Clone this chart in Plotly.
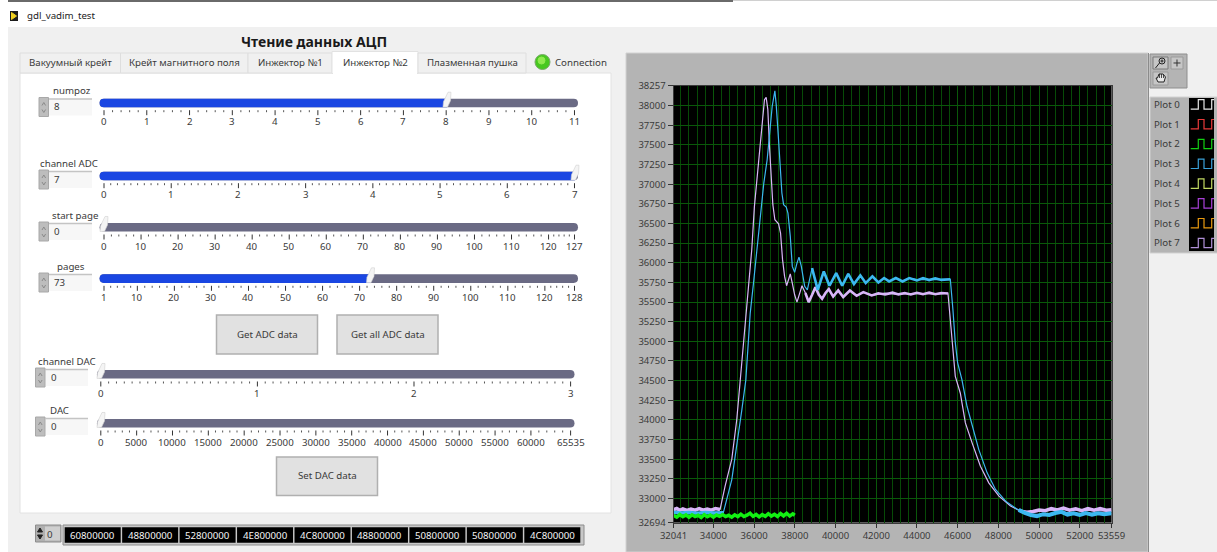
import plotly.graph_objects as go

W, H = 1217, 552
FONT = "Noto Sans"

# ---------- chart data ----------
x_ticks = [32041, 34000, 36000, 38000, 40000, 42000, 44000, 46000, 48000, 50000, 52000, 53559]
y_ticks = [38257, 38000, 37750, 37500, 37250, 37000, 36750, 36500, 36250, 36000, 35750, 35500,
           35250, 35000, 34750, 34500, 34250, 34000, 33750, 33500, 33250, 33000, 32694]
x_minor = [32400, 32800, 33200, 33600, 34400, 34800, 35200, 35600, 36400, 36800, 37200, 37600,
           38400, 38800, 39200, 39600, 40400, 40800, 41200, 41600, 42400, 42800, 43200, 43600,
           44400, 44800, 45200, 45600, 46400, 46800, 47200, 47600, 48400, 48800, 49200, 49600,
           50400, 50800, 51200, 51600, 52400, 52800, 53200]

lav_x = [32041, 33000, 34330, 34576, 34905, 35150, 35400, 35595, 35650, 35752, 35885, 36016, 36181, 36313, 36428, 36510,
         36593, 36675, 36757, 36840, 36922, 37021, 37202, 37300, 37399, 37498, 37597, 37690, 37778,
         37877, 37992, 38107, 38230, 38354, 38520, 38683, 38850, 39012, 39180, 39342, 39510, 39671,
         39885, 40132, 40379, 40708, 41037, 41367, 41778, 42437, 43000, 44000, 45000, 45524, 45640,
         45754, 45885, 46130, 46380, 46710, 47120, 47530, 48030, 48600, 49100, 49590, 50060, 50870,
         52010, 53559]
lav_y = [32855, 32855, 32860, 33157, 33500, 34005, 34720, 35300, 35500, 35740, 36166, 36718, 37142, 37482, 37779, 38076,
         38106, 37950, 37482, 37015, 36740, 36548, 36497, 36378, 36040, 35827, 35708, 35784, 35860,
         35741, 35593, 35500, 35593, 35708, 35615, 35500, 35593, 35690, 35593, 35542, 35615, 35665,
         35570, 35648, 35564, 35648, 35580, 35627, 35585, 35615, 35600, 35610, 35600, 35615, 35275,
         34940, 34555, 34343, 33962, 33708, 33411, 33199, 33030, 32903, 32839, 32818, 32839, 32860,
         32852, 32840]

blue_x = [32041, 33000, 34490, 34905, 35150, 35400, 35595, 35810, 35970, 36148, 36313, 36478, 36642, 36757, 36889,
          37021, 37087, 37202, 37284, 37366, 37449, 37580, 37663, 37778, 37877, 37992, 38107, 38206,
          38321, 38485, 38617, 38848, 39128, 39424, 39704, 40033, 40329, 40626, 40906, 41219, 41483,
          41812, 42107, 42387, 42634, 42964, 43293, 43622, 44000, 45000, 45640, 45770, 45885, 46000,
          46210, 46460, 46710, 47040, 47450, 47860, 48360, 48940, 49590, 50250, 51070, 52010, 53559]
blue_y = [32820, 32820, 32820, 33240, 33665, 34130, 34510, 35360, 35740, 36210, 36675, 37015, 37312, 37650, 37990,
          38190, 38013, 37567, 37228, 36888, 36740, 36710, 36633, 36336, 35954, 35878, 35996, 36072,
          35954, 35700, 35656, 35933, 35656, 35890, 35708, 35869, 35708, 35860, 35730, 35840, 35742,
          35827, 35750, 35806, 35763, 35806, 35763, 35806, 35785, 35790, 35790, 35400, 34980, 34725,
          34513, 34174, 33920, 33622, 33326, 33114, 32966, 32860, 32797, 32797, 32827, 32806, 32810]

lav_osc_x = [38520, 38683, 38850, 39012, 39180, 39342, 39510, 39671, 39885, 40132, 40379, 40708, 41037, 41367, 41778,
             42100, 42437, 42800, 43100, 43400, 43700, 44000, 44300, 44600, 44900, 45200, 45524]
lav_osc_y = [35615, 35500, 35593, 35690, 35593, 35542, 35615, 35665, 35570, 35648, 35564, 35648, 35580, 35627, 35585,
             35612, 35596, 35620, 35598, 35615, 35596, 35618, 35600, 35622, 35600, 35616, 35610]
blue_osc_x = [38848, 39128, 39424, 39704, 40033, 40329, 40626, 40906, 41219, 41483, 41812, 42107, 42387, 42634,
              42964, 43293, 43622, 44000, 44300, 44600, 44900, 45200, 45640]
blue_osc_y = [35933, 35656, 35890, 35708, 35869, 35708, 35860, 35730, 35840, 35742, 35827, 35750, 35806, 35763,
              35806, 35763, 35806, 35775, 35805, 35780, 35802, 35782, 35790]

lav_band_x = [32041, 32200, 32350, 32500, 32700, 32900, 33100, 33300, 33500, 33700, 33900, 34100, 34330]
lav_band_y = [32858, 32872, 32850, 32866, 32848, 32864, 32852, 32870, 32850, 32866, 32852, 32872, 32860]
blue_band_x = [32041, 32400, 32800, 33200, 33600, 34000, 34490]
blue_band_y = [32825, 32815, 32822, 32812, 32820, 32814, 32818]
green_x = [32041, 32200, 32350, 32500, 32650, 32800, 32950, 33100, 33250, 33400, 33550, 33700, 33850, 34000,
           34150, 34300, 34450, 34600, 34750, 34900, 35050, 35200, 35350, 35500, 35650, 35800, 35950, 36100,
           36250, 36400, 36550, 36700, 36850, 37000, 37150, 37300, 37450, 37600, 37750, 37900, 38000]
green_y = [32785, 32762, 32795, 32768, 32790, 32760, 32792, 32770, 32786, 32758, 32794, 32768, 32788, 32762,
           32790, 32772, 32796, 32770, 32786, 32762, 32792, 32768, 32800, 32770, 32788, 32812, 32772, 32796,
           32766, 32794, 32772, 32806, 32776, 32798, 32770, 32808, 32778, 32812, 32776, 32804, 32786]
lav_tail_x = [49100, 49400, 49700, 50000, 50300, 50600, 50900, 51200, 51500, 51800, 52100, 52400, 52700, 53000, 53300, 53559]
lav_tail_y = [32839, 32825, 32835, 32852, 32845, 32870, 32855, 32878, 32850, 32868, 32846, 32870, 32852, 32872, 32850, 32856]
blue_tail_x = [49000, 49300, 49600, 49900, 50200, 50500, 50800, 51100, 51400, 51700, 52000, 52300, 52600, 52900, 53200, 53559]
blue_tail_y = [32855, 32815, 32790, 32775, 32800, 32790, 32815, 32830, 32795, 32810, 32790, 32815, 32795, 32812, 32800, 32812]

# ---------- panel content ----------
tab_names = ["Вакуумный крейт", "Крейт магнитного поля", "Инжектор №1", "Инжектор №2", "Плазменная пушка"]
array_values = ["60800000", "48800000", "52800000", "4E800000", "4C800000", "48800000", "50800000", "50800000", "4C800000"]
legend_names = ["Plot 0", "Plot 1", "Plot 2", "Plot 3", "Plot 4", "Plot 5", "Plot 6", "Plot 7"]
legend_colors = ["#e8e8e8", "#e83a3a", "#12d012", "#3aa0d8", "#c0d860", "#a840d8", "#e89a10", "#b090d8"]

numpoz_labels = [0, 1, 2, 3, 4, 5, 6, 7, 8, 9, 10, 11]
channel_adc_labels = [0, 1, 2, 3, 4, 5, 6, 7]
start_page_labels = [0, 10, 20, 30, 40, 50, 60, 70, 80, 90, 100, 110, 120, 127]
pages_labels = [1, 10, 20, 30, 40, 50, 60, 70, 80, 90, 100, 110, 120, 128]
channel_dac_labels = [0, 1, 2, 3]
dac_labels = [0, 5000, 10000, 15000, 20000, 25000, 30000, 35000, 40000, 45000, 50000, 55000, 60000, 65535]

LAV = "#d8b6f8"
BLUE = "#3cb8f0"
GREEN = "#12f012"
TXT = 9.7


def fx(x):
    return x / W


def fy(y):
    return 1 - y / H


shapes = []
ann = []


def rect(x0, y0, x1, y1, fill, line=None, lw=0):
    shapes.append(dict(type="rect", xref="paper", yref="paper", layer="below",
                       x0=fx(x0), x1=fx(x1), y0=fy(y0), y1=fy(y1), fillcolor=fill,
                       line=dict(color=line or fill, width=lw)))


def path(points, color, lw=1, fill=None):
    d = "M" + " L".join(f"{fx(a):.5f},{fy(b):.5f}" for a, b in points)
    if fill:
        d += " Z"
    shapes.append(dict(type="path", xref="paper", yref="paper", layer="below", path=d,
                       line=dict(color=color, width=lw), fillcolor=fill))


def multi(segs, color, lw=1):
    d = " ".join(f"M{fx(a):.5f},{fy(b):.5f} L{fx(c):.5f},{fy(e):.5f}" for a, b, c, e in segs)
    shapes.append(dict(type="path", xref="paper", yref="paper", layer="below", path=d,
                       line=dict(color=color, width=lw)))


def circle(cx, cy, r, fill, line):
    shapes.append(dict(type="circle", xref="paper", yref="paper", layer="below",
                       x0=fx(cx - r), x1=fx(cx + r), y0=fy(cy - r), y1=fy(cy + r),
                       fillcolor=fill, line=dict(color=line, width=1)))


def text(x, y, s, size=TXT, color="#3a3a3a", anchor="center", bold=False):
    ann.append(dict(xref="paper", yref="paper", x=fx(x), y=fy(y), text=f"<b>{s}</b>" if bold else str(s),
                    showarrow=False, xanchor=anchor, yanchor="middle", borderpad=0, borderwidth=0,
                    font=dict(family=FONT, size=size, color=color)))


def slider(label, label_x, label_y, value, spin_x, box_x0, box_x1, box_y0, track_x0, track_x1, track_y0,
           ax0, ax1, vmin, vmax, labels, minor_n, hx):
    # label + numeric control
    text(label_x, label_y, label)
    rect(box_x0, box_y0, box_x1, box_y0 + 17, "#f7f7f7")
    multi([(box_x0, box_y0 + 0.5, box_x1, box_y0 + 0.5)], "#c4c4c4", 1.5)
    rect(spin_x, box_y0 - 1, spin_x + 9.5, box_y0 + 18, "#bdbdbd", "#a8a8a8", 1)
    path([(spin_x + 3, box_y0 + 7), (spin_x + 4.8, box_y0 + 4), (spin_x + 6.6, box_y0 + 7)], "#8a8a8a", 1)
    path([(spin_x + 3, box_y0 + 11), (spin_x + 4.8, box_y0 + 14), (spin_x + 6.6, box_y0 + 11)], "#8a8a8a", 1)
    text(box_x0 + 5, box_y0 + 8.5, value, anchor="left")
    # track
    d = track_y0 + 8.6
    r = 4.3
    shapes.append(dict(type="path", xref="paper", yref="paper", layer="below",
                       path=(f"M{fx(track_x0+r):.5f},{fy(track_y0):.5f} L{fx(track_x1-r):.5f},{fy(track_y0):.5f} "
                             f"Q{fx(track_x1):.5f},{fy(track_y0):.5f} {fx(track_x1):.5f},{fy(track_y0+r):.5f} "
                             f"Q{fx(track_x1):.5f},{fy(d):.5f} {fx(track_x1-r):.5f},{fy(d):.5f} "
                             f"L{fx(track_x0+r):.5f},{fy(d):.5f} "
                             f"Q{fx(track_x0):.5f},{fy(d):.5f} {fx(track_x0):.5f},{fy(track_y0+r):.5f} "
                             f"Q{fx(track_x0):.5f},{fy(track_y0):.5f} {fx(track_x0+r):.5f},{fy(track_y0):.5f} Z"),
                       fillcolor="#6a6a84", line=dict(color="#6a6a84", width=0)))
    if hx > track_x0 + 8:
        shapes.append(dict(type="path", xref="paper", yref="paper", layer="below",
                           path=(f"M{fx(track_x0+r):.5f},{fy(track_y0):.5f} L{fx(hx):.5f},{fy(track_y0):.5f} "
                                 f"L{fx(hx):.5f},{fy(d):.5f} L{fx(track_x0+r):.5f},{fy(d):.5f} "
                                 f"Q{fx(track_x0):.5f},{fy(d):.5f} {fx(track_x0):.5f},{fy(track_y0+r):.5f} "
                                 f"Q{fx(track_x0):.5f},{fy(track_y0):.5f} {fx(track_x0+r):.5f},{fy(track_y0):.5f} Z"),
                           fillcolor="#1a46e2", line=dict(color="#1a46e2", width=0)))
    # handle
    path([(hx - 4, track_y0 + 8.4), (hx + 0.5, track_y0 + 8.4), (hx + 3.5, track_y0 + 2), (hx + 4, track_y0 - 6.5),
          (hx + 1, track_y0 - 6.5), (hx - 3.5, track_y0 + 3)], "#d0d0d0", 0.6, fill="#f4f4f4")
    # ticks
    ty = track_y0 + 11.5
    maj = []
    mnr = []
    span = vmax - vmin
    for i, v in enumerate(labels):
        px = ax0 + (ax1 - ax0) * (v - vmin) / span
        maj.append((px, ty, px, ty + 5))
        text(px, ty + 11.5, v)
        if i + 1 < len(labels):
            nxt = ax0 + (ax1 - ax0) * (labels[i + 1] - vmin) / span
            for k in range(1, minor_n + 1):
                m = px + (nxt - px) * k / (minor_n + 1)
                mnr.append((m, ty, m, ty + 2))
    multi(maj, "#333333", 1)
    multi(mnr, "#555555", 1)


# ---------- window chrome ----------
rect(0, 0, W, H, "#ffffff")
rect(8, 27, W, H, "#f0f0f0")
rect(8, 0, 733, 2, "#6a6a6a")
rect(733, 0, W, 1, "#d0d0d0")
rect(10, 11, 18, 21, "#1c1c1c")
path([(11.5, 12.5), (16.5, 16), (11.5, 19.5)], "#f0d020", 1, fill="#f0d020")
text(27, 15.5, "gdl_vadim_test", TXT, "#222222", anchor="left")
text(313.5, 41, "Чтение данных АЦП", 14, "#1a1a1a", bold=True)

# ---------- tabs ----------
tab_edges = [20, 120.5, 248, 332, 418, 526]
rect(20, 73, 611, 513, "#ffffff", "#e2e2e2", 1)
for i, nm in enumerate(tab_names):
    x0, x1 = tab_edges[i], tab_edges[i + 1]
    if i == 3:
        rect(x0, 51.5, x1, 73.5, "#ffffff", "#e2e2e2", 1)
        multi([(x0 + 1, 73.5, x1 - 1, 73.5)], "#ffffff", 2)
    else:
        rect(x0, 53, x1, 73, "#f0f0f0", "#dedede", 1)
    text((x0 + x1) / 2, 62.5, nm)
circle(542.5, 62, 7.5, "#48c820", "#78a868")
circle(541.5, 60.5, 3.5, "#90ea50", "#90ea50")
text(555, 62.5, "Connection", anchor="left")

# ---------- sliders ----------
slider("numpoz", 72, 90.5, 8, 39, 48.5, 92, 98.5, 99.6, 578, 98.7, 104, 574.5, 0, 11, numpoz_labels, 4, 447)
slider("channel ADC", 69, 163, 7, 39, 48.5, 92, 171, 99.6, 578, 171.7, 104, 574.5, 0, 7, channel_adc_labels, 9, 575)
slider("start page", 75, 215, 0, 39, 48.5, 92, 223, 99.6, 578, 223, 104, 574.5, 0, 127, start_page_labels, 4, 104)
slider("pages", 71, 266.5, 73, 39, 48.5, 92, 274, 99.6, 578, 274.3, 104, 574.5, 1, 128, pages_labels, 4, 370.5)
slider("channel DAC", 67, 361, 0, 35.5, 45.5, 88, 369, 97, 574.5, 370, 100.8, 570.6, 0, 3, channel_dac_labels, 19, 101)
slider("DAC", 59.3, 410, 0, 35.5, 45.5, 88, 418, 97, 574.5, 419, 100.8, 570.6, 0, 65535, dac_labels, 4, 101)

# ---------- buttons ----------
for x0, y0, x1, y1, lbl in [(216.5, 315, 317.5, 354, "Get ADC data"),
                            (337, 315, 438, 354, "Get all ADC data"),
                            (276.5, 457, 377.5, 495.5, "Set DAC data")]:
    rect(x0, y0, x1, y1, "#e1e1e1", "#b0b0b0", 1.5)
    text((x0 + x1) / 2, (y0 + y1) / 2 - 0.5, lbl)

# ---------- array indicator ----------
rect(35.5, 525, 61, 542, "#b0b0b0", "#8c8c8c", 1)
rect(45, 526.5, 60, 540.5, "#cfcfcf")
text(47, 534, "0", anchor="left")
path([(37.5, 532), (40, 528), (42.5, 532)], "#222222", 1, fill="#222222")
path([(37.5, 535), (40, 539), (42.5, 535)], "#222222", 1, fill="#222222")
rect(63, 525, 584, 545, "#c8c8c8", "#8c8c8c", 1)
for i, v in enumerate(array_values):
    x0 = 64.7 + i * 57.45
    rect(x0, 527.3, x0 + 56, 542.7, "#000000")
    text(x0 + 28, 535, v, TXT, "#f4f4f4")

# ---------- graph frame and legend ----------
rect(626, 53, 1148, H, "#b4b4b4", "#d2d2d2", 1)
multi([(1148.5, 53, 1148.5, H)], "#8a8a8a", 1)

rect(1150, 54, 1187, 88, "#b4b4b4", "#8e8e8e", 1)
rect(1153, 57, 1168, 69, "#c6c6c6", "#7a7a7a", 1)
circle(1162, 61, 3, "#c6c6c6", "#222222")
multi([(1159.5, 63, 1155.5, 68), (1160.5, 61, 1163.5, 61), (1162, 59.5, 1162, 62.5)], "#222222", 1)
rect(1171, 57, 1183, 69, "#c6c6c6", "#9a9a9a", 1)
multi([(1173.5, 63, 1180.5, 63), (1177, 59.5, 1177, 66.5)], "#333333", 1)
rect(1153, 72, 1168, 85, "#c6c6c6", "#9a9a9a", 1)
path([(1156, 78), (1158, 82), (1164, 82), (1165.5, 77), (1163, 74), (1159, 74), (1157.5, 78)], "#222222", 1, fill="#e8e8e8")
multi([(1159.5, 74, 1159.5, 78), (1161.5, 74, 1161.5, 78), (1163.5, 74.5, 1163.5, 78)], "#222222", 0.8)

rect(1150, 97, W + 2, 253, "#b4b4b4", "#d2d2d2", 1)
rect(1189, 98, 1214, 251, "#000000")
for i, (nm, col) in enumerate(zip(legend_names, legend_colors)):
    ly = 104.3 + i * 19.8
    text(1154, ly, nm, TXT, "#3a3a3a", anchor="left")
    hi, lo = ly - 4.6, ly + 4.8
    path([(1190.7, lo), (1198.3, lo), (1198.3, hi), (1204, hi), (1204, lo), (1211.7, lo), (1211.7, hi), (1214, hi)],
         col, 1.2)

# ---------- plot ----------
X0, X1, Y0, Y1 = 673.5, 1111.5, 85.5, 522.5
rect(X0, Y0, X1, Y1, "#000000")
fig = go.Figure()
for nm, xs, ys, col, w in [
    ("Plot 7", lav_x, lav_y, LAV, 1.2),
    ("Plot 7 baseline", lav_band_x, lav_band_y, LAV, 3.5),
    ("Plot 7 plateau", lav_osc_x, lav_osc_y, LAV, 2.6),
    ("Plot 7 tail", lav_tail_x, lav_tail_y, LAV, 3.5),
    ("Plot 3", blue_x, blue_y, BLUE, 1.2),
    ("Plot 3 baseline", blue_band_x, blue_band_y, BLUE, 3.5),
    ("Plot 3 plateau", blue_osc_x, blue_osc_y, BLUE, 2.6),
    ("Plot 3 tail", blue_tail_x, blue_tail_y, BLUE, 4),
    ("Plot 2", green_x, green_y, GREEN, 3.5),
]:
    fig.add_trace(go.Scatter(x=xs, y=ys, name=nm, mode="lines", showlegend=False,
                             line=dict(color=col, width=w), hoverinfo="skip"))

axis_font = dict(family=FONT, size=9.5, color="#3a3a3a")
fig.update_xaxes(domain=[fx(X0), fx(X1)], range=[32041, 53559], tickmode="array", tickvals=x_ticks,
                 ticktext=[str(v) for v in x_ticks], ticks="outside", ticklen=4, tickcolor="#333333",
                 tickfont=axis_font, showgrid=True, gridcolor="#0a580a", gridwidth=1, zeroline=False,
                 showline=True, linecolor="#3a3a3a", mirror=True, tickangle=0, automargin=False,
                 minor=dict(tickmode="array", tickvals=x_minor, showgrid=True, gridcolor="#074a07",
                            gridwidth=1, ticks=""))
fig.update_yaxes(domain=[fy(Y1), fy(Y0)], range=[32694, 38257], tickmode="array", tickvals=y_ticks,
                 ticktext=[str(v) for v in y_ticks], ticks="outside", ticklen=5, tickcolor="#333333",
                 tickfont=axis_font, showgrid=True, gridcolor="#0a580a", gridwidth=1, zeroline=False,
                 showline=True, linecolor="#3a3a3a", mirror=True, automargin=False)
fig.update_layout(template="none", width=W, height=H, autosize=False, margin=dict(l=0, r=0, t=0, b=0, pad=0),
                  paper_bgcolor="#ffffff", plot_bgcolor="rgba(0,0,0,0)", shapes=shapes, annotations=ann,
                  showlegend=False, hovermode=False, font=dict(family=FONT))

fig.write_html("out.html", config=dict(displayModeBar=False),
               post_script="document.body.style.margin='0';document.body.style.overflow='hidden';")
